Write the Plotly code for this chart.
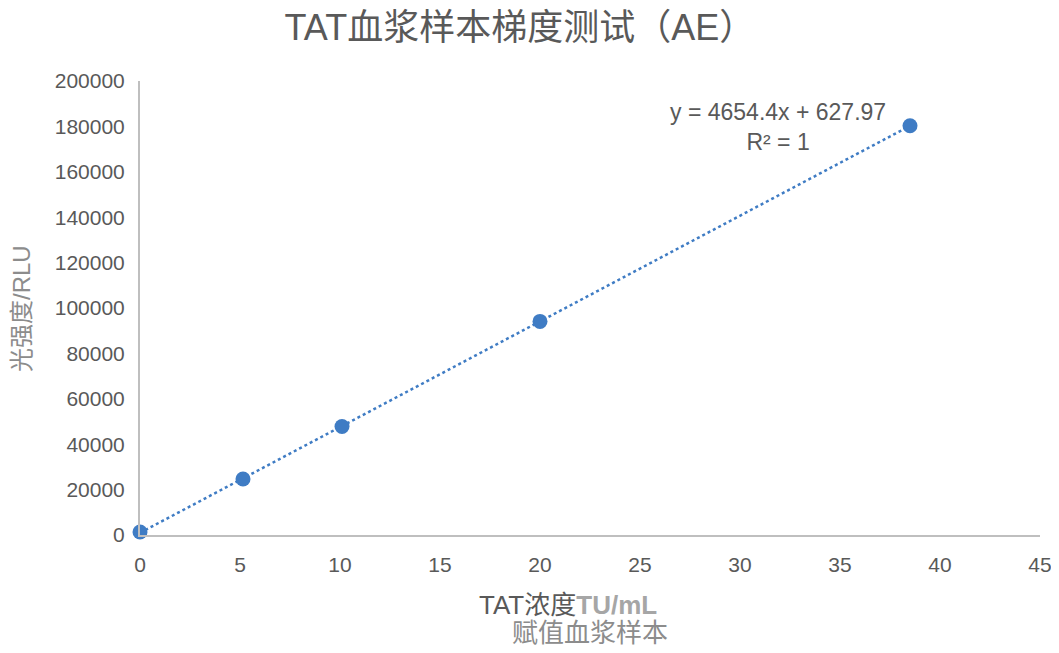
import numpy as np
import plotly.graph_objects as go

# Data
conc = [0, 5.15, 10.1, 20, 38.5]
rlu = [1300, 24700, 47800, 94100, 180300]
x_ticks = [0, 5, 10, 15, 20, 25, 30, 35, 40, 45]
y_ticks = [0, 20000, 40000, 60000, 80000, 100000, 120000, 140000, 160000, 180000, 200000]

title_text = "TAT血浆样本梯度测试（AE）"
y_title = "光强度/RLU"
eq_text = "y = 4654.4x + 627.97"
r2_text = "R² = 1"

FONT = "Liberation Sans, Arial, Noto Sans CJK SC"
BLUE = "#3f7cc4"

slope, intercept = np.polyfit(conc, rlu, 1)
trend_x = [min(conc), max(conc)]
trend_y = [slope * v + intercept for v in trend_x]

fig = go.Figure()
fig.add_trace(go.Scatter(
    x=trend_x, y=trend_y, mode="lines",
    line=dict(color=BLUE, width=2.5, dash="dot"),
    hoverinfo="skip", showlegend=False, cliponaxis=False))
fig.add_trace(go.Scatter(
    x=conc, y=rlu, mode="markers",
    marker=dict(color=BLUE, size=15),
    showlegend=False, cliponaxis=False))

fig.update_layout(
    width=1051, height=645,
    margin=dict(l=132, r=19, t=73, b=118, pad=0),
    paper_bgcolor="white", plot_bgcolor="white",
    font=dict(family=FONT, color="#595959"),
    title=dict(text=title_text, x=0.487, xanchor="center", y=0.97, yanchor="middle",
               font=dict(size=36, color="#595959", family=FONT)),
    xaxis=dict(range=[0, 45], tickvals=x_ticks, showgrid=False, zeroline=False,
               showline=True, linecolor="#bfbfbf", linewidth=2, ticks="",
               ticklabelstandoff=10, automargin=False,
               tickfont=dict(size=21, color="#595959")),
    yaxis=dict(range=[0, 200000], tickvals=y_ticks, showgrid=False, zeroline=False,
               showline=True, linecolor="#bfbfbf", linewidth=2, ticks="",
               ticklabelstandoff=9, automargin=False,
               tickfont=dict(size=21, color="#595959"), tickformat="d"),
)

fig.add_annotation(xref="paper", yref="paper", x=-0.131, y=0.498,
                   text=y_title, textangle=-90, showarrow=False,
                   font=dict(size=24, color="#8c8c8c", family=FONT),
                   xanchor="center", yanchor="middle")

fig.add_annotation(xref="paper", yref="paper", x=0.4756, y=-0.154,
                   text="<span style='color:#595959'>TAT浓度</span><b><span style='color:#a6a6a6'>TU/mL</span></b>",
                   showarrow=False, font=dict(size=26, family=FONT),
                   xanchor="center", yanchor="middle")
fig.add_annotation(xref="paper", yref="paper", x=0.5, y=-0.216,
                   text="赋值血浆样本", showarrow=False,
                   font=dict(size=26, color="#8c8c8c", family=FONT),
                   xanchor="center", yanchor="middle")

fig.add_annotation(xref="paper", yref="paper", x=0.709, y=0.899,
                   text=eq_text + "<br>" + r2_text, showarrow=False, align="center",
                   font=dict(size=23, color="#595959", family=FONT),
                   xanchor="center", yanchor="middle")

fig.write_html("out.html")
